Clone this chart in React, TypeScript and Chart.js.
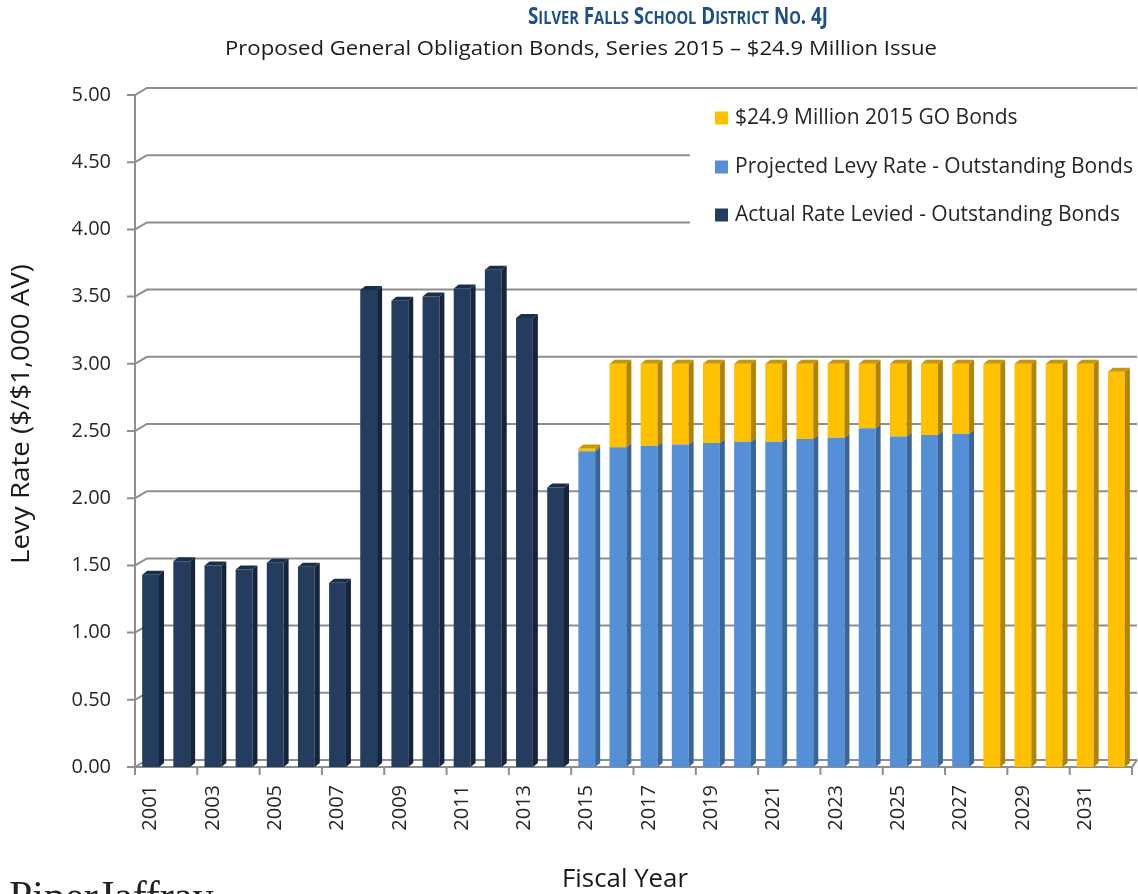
import React, { useEffect, useRef } from "react";
import { Chart, registerables } from "chart.js";

Chart.register(...registerables);

// ---------- DATA ----------
const years = [
  "2001", "2002", "2003", "2004", "2005", "2006", "2007", "2008",
  "2009", "2010", "2011", "2012", "2013", "2014", "2015", "2016",
  "2017", "2018", "2019", "2020", "2021", "2022", "2023", "2024",
  "2025", "2026", "2027", "2028", "2029", "2030", "2031", "2032",
];

const actualRate: (number | null)[] = [
  1.43, 1.53, 1.5, 1.47, 1.52, 1.49, 1.37, 3.55,
  3.47, 3.5, 3.56, 3.7, 3.34, 2.08, null, null,
  null, null, null, null, null, null, null, null,
  null, null, null, null, null, null, null, null,
];

const projectedRate: (number | null)[] = [
  null, null, null, null, null, null, null, null,
  null, null, null, null, null, null, 2.35, 2.38,
  2.39, 2.4, 2.41, 2.42, 2.42, 2.44, 2.45, 2.52,
  2.46, 2.47, 2.48, null, null, null, null, null,
];

const goBonds: (number | null)[] = [
  null, null, null, null, null, null, null, null,
  null, null, null, null, null, null, 0.02, 0.62,
  0.61, 0.6, 0.59, 0.58, 0.58, 0.56, 0.55, 0.48,
  0.54, 0.53, 0.52, 3.0, 3.0, 3.0, 3.0, 2.94,
];

const yMin = 0;
const yMax = 5;
const yStep = 0.5;

const seriesLabels = [
  "Actual Rate Levied - Outstanding Bonds",
  "Projected Levy Rate - Outstanding Bonds",
  "$24.9 Million 2015 GO Bonds",
];

const titleText = "Silver Falls School District No. 4J";
const subtitleText = "Proposed General Obligation Bonds, Series 2015 \u2013 $24.9 Million Issue";
const yTitleText = "Levy Rate ($/$1,000 AV)";
const xTitleText = "Fiscal Year";
const logoText = "PiperJaffray";

// ---------- STYLE ----------
const frontColors = ["#243c5e", "#5590d6", "#ffc000"];
const sideColors = ["#15243a", "#3a6598", "#b08400"];
const topColors = ["#1b2e4a", "#467ab9", "#c99800"];
const GRID = "#8e8e8e";
const FONT = "'Open Sans', 'Noto Sans', sans-serif";
const BAR_DX = 5;
const BAR_DY = 4;
const WALL_DX = 12;
const WALL_DY = 7;

const wallPlugin = {
  id: "wall",
  beforeDatasetsDraw(chart: any) {
    const { ctx, chartArea, scales } = chart;
    const { left, right, bottom } = chartArea;
    const y = scales.y;
    const x = scales.x;
    ctx.save();
    ctx.strokeStyle = GRID;
    ctx.lineWidth = 2;
    for (const t of y.ticks) {
      const py = y.getPixelForValue(t.value);
      ctx.beginPath();
      ctx.moveTo(left - 8, py);
      ctx.lineTo(left, py);
      ctx.lineTo(left + WALL_DX, py - WALL_DY);
      ctx.lineTo(right + 5, py - WALL_DY);
      ctx.stroke();
    }
    ctx.beginPath();
    ctx.moveTo(left, y.getPixelForValue(yMax));
    ctx.lineTo(left, bottom);
    ctx.stroke();
    ctx.beginPath();
    ctx.moveTo(left, bottom);
    ctx.lineTo(right, bottom);
    ctx.lineTo(right + 5, bottom - WALL_DY);
    ctx.stroke();
    const n = chart.data.labels.length;
    const catW = (right - left) / n;
    for (let i = 0; i <= n; i += 2) {
      const px = i < n ? x.getPixelForValue(i) - catW / 2 : right;
      ctx.beginPath();
      ctx.moveTo(px, bottom);
      ctx.lineTo(px, bottom + 8);
      ctx.stroke();
    }
    ctx.fillStyle = "#ffffff";
    ctx.fillRect(690, 93, 448, 147);
    ctx.restore();
  },
};

const bar3dPlugin = {
  id: "bar3d",
  afterDatasetsDraw(chart: any) {
    const ctx = chart.ctx;
    const n = chart.data.labels.length;
    const dsets = chart.data.datasets;
    ctx.save();
    for (let j = 0; j < n; j++) {
      let topIdx = -1;
      dsets.forEach((d: any, i: number) => {
        const v = d.data[j];
        if (v != null && v !== 0) topIdx = i;
      });
      dsets.forEach((d: any, i: number) => {
        const v = d.data[j];
        if (v == null) return;
        const el = chart.getDatasetMeta(i).data[j];
        if (!el) return;
        const { x, y, base, width } = el.getProps(["x", "y", "base", "width"], true);
        const l = x - width / 2;
        const r = x + width / 2;
        ctx.fillStyle = sideColors[i];
        ctx.beginPath();
        ctx.moveTo(r, y);
        ctx.lineTo(r + BAR_DX, y - BAR_DY);
        ctx.lineTo(r + BAR_DX, base - BAR_DY);
        ctx.lineTo(r, base);
        ctx.closePath();
        ctx.fill();
        if (i === topIdx) {
          ctx.fillStyle = topColors[i];
          ctx.beginPath();
          ctx.moveTo(l, y);
          ctx.lineTo(r, y);
          ctx.lineTo(r + BAR_DX, y - BAR_DY);
          ctx.lineTo(l + BAR_DX, y - BAR_DY);
          ctx.closePath();
          ctx.fill();
        }
      });
    }
    ctx.restore();
  },
};

function drawFitted(ctx: CanvasRenderingContext2D, text: string, cx: number, cy: number, font: string, targetW: number, color: string, rot = 0) {
  ctx.save();
  ctx.font = font;
  const w = ctx.measureText(text).width;
  ctx.translate(cx, cy);
  if (rot) ctx.rotate(rot);
  ctx.scale(targetW / w, 1);
  ctx.textAlign = "center";
  ctx.textBaseline = "middle";
  ctx.fillStyle = color;
  ctx.fillText(text, 0, 0);
  ctx.restore();
}

function drawSmallCaps(ctx: CanvasRenderingContext2D, text: string, cx: number, cy: number, size: number, targetW: number, color: string) {
  const runs: { t: string; small: boolean }[] = [];
  for (const ch of text) {
    const small = ch !== ch.toUpperCase();
    const last = runs[runs.length - 1];
    if (last && last.small === small) last.t += small ? ch.toUpperCase() : ch;
    else runs.push({ t: small ? ch.toUpperCase() : ch, small });
  }
  const big = `bold ${size}px ${FONT}`;
  const sm = `bold ${Math.round(size * 0.78)}px ${FONT}`;
  ctx.save();
  let total = 0;
  const widths = runs.map((r) => {
    ctx.font = r.small ? sm : big;
    const w = ctx.measureText(r.t).width;
    total += w;
    return w;
  });
  const s = targetW / total;
  ctx.translate(cx - targetW / 2, cy);
  ctx.scale(s, 1);
  ctx.textBaseline = "alphabetic";
  ctx.textAlign = "left";
  ctx.fillStyle = color;
  let xx = 0;
  runs.forEach((r, i) => {
    ctx.font = r.small ? sm : big;
    ctx.fillText(r.t, xx, 0);
    xx += widths[i];
  });
  ctx.restore();
}

const textPlugin = {
  id: "texts",
  afterDraw(chart: any) {
    const ctx: CanvasRenderingContext2D = chart.ctx;
    ctx.save();
    drawSmallCaps(ctx, titleText, 678, 24, 23, 300, "#1f4e89");
    drawFitted(ctx, subtitleText, 581, 49, `20px ${FONT}`, 712, "#1a1a1a");

    drawFitted(ctx, yTitleText, 22, 414, `25px ${FONT}`, 300, "#1a1a1a", -Math.PI / 2);

    drawFitted(ctx, xTitleText, 625, 880, `25px ${FONT}`, 126, "#1a1a1a");

    ctx.font = `42px 'Liberation Serif', serif`;
    ctx.fillStyle = "#222222";
    ctx.textAlign = "left";
    ctx.textBaseline = "alphabetic";
    ctx.fillText(logoText, 9, 910);

    const rows = [118, 167, 215];
    const ds = chart.data.datasets;
    ctx.font = `21px ${FONT}`;
    ctx.textBaseline = "middle";
    for (let k = 0; k < ds.length; k++) {
      const i = ds.length - 1 - k;
      const yy = rows[k];
      ctx.fillStyle = frontColors[i];
      ctx.fillRect(715, yy - 6.5, 13, 13);
      ctx.fillStyle = "#262626";
      ctx.fillText(ds[i].label, 735, yy);
    }
    ctx.restore();
  },
};

export default function App() {
  const ref = useRef<HTMLCanvasElement | null>(null);

  useEffect(() => {
    if (!ref.current) return;
    const chart = new Chart(ref.current, {
      type: "bar",
      data: {
        labels: years,
        datasets: [
          { label: seriesLabels[0], data: actualRate, backgroundColor: frontColors[0] },
          { label: seriesLabels[1], data: projectedRate, backgroundColor: frontColors[1] },
          { label: seriesLabels[2], data: goBonds, backgroundColor: frontColors[2] },
        ] as any,
      },
      options: {
        animation: false,
        responsive: true,
        maintainAspectRatio: false,
        layout: { padding: { top: 95, right: 6, left: 0, bottom: 0 } },
        datasets: { bar: { barPercentage: 0.54, categoryPercentage: 1, borderWidth: 0 } } as any,
        plugins: {
          legend: { display: false },
          title: { display: false },
          tooltip: { enabled: false },
        },
        scales: {
          x: {
            stacked: true,
            grid: { display: false, drawTicks: true, tickLength: 8 },
            border: { display: false },
            ticks: {
              autoSkip: false,
              minRotation: 90,
              maxRotation: 90,
              padding: 10,
              color: "#262626",
              font: { family: FONT, size: 20 },
              callback: (_v: any, idx: number) => (idx % 2 === 0 ? years[idx] : ""),
            },
            afterFit: (s: any) => {
              s.height = 127;
              s.paddingLeft = 0;
              s.paddingRight = 0;
            },
          },
          y: {
            stacked: true,
            min: yMin,
            max: yMax,
            grid: { display: false, drawTicks: true, tickLength: 8 },
            border: { display: false },
            ticks: {
              stepSize: yStep,
              padding: 16,
              color: "#262626",
              font: { family: FONT, size: 20 },
              callback: (v: any) => Number(v).toFixed(2),
            },
            afterFit: (s: any) => {
              s.width = 135;
              s.paddingTop = 0;
              s.paddingBottom = 0;
            },
          },
        },
      },
      plugins: [wallPlugin, bar3dPlugin, textPlugin],
    });
    return () => chart.destroy();
  }, []);

  return (
    <div style={{ position: "absolute", left: 0, top: 0, width: 1138, height: 894, background: "#fff" }}>
      <canvas ref={ref} />
    </div>
  );
}
